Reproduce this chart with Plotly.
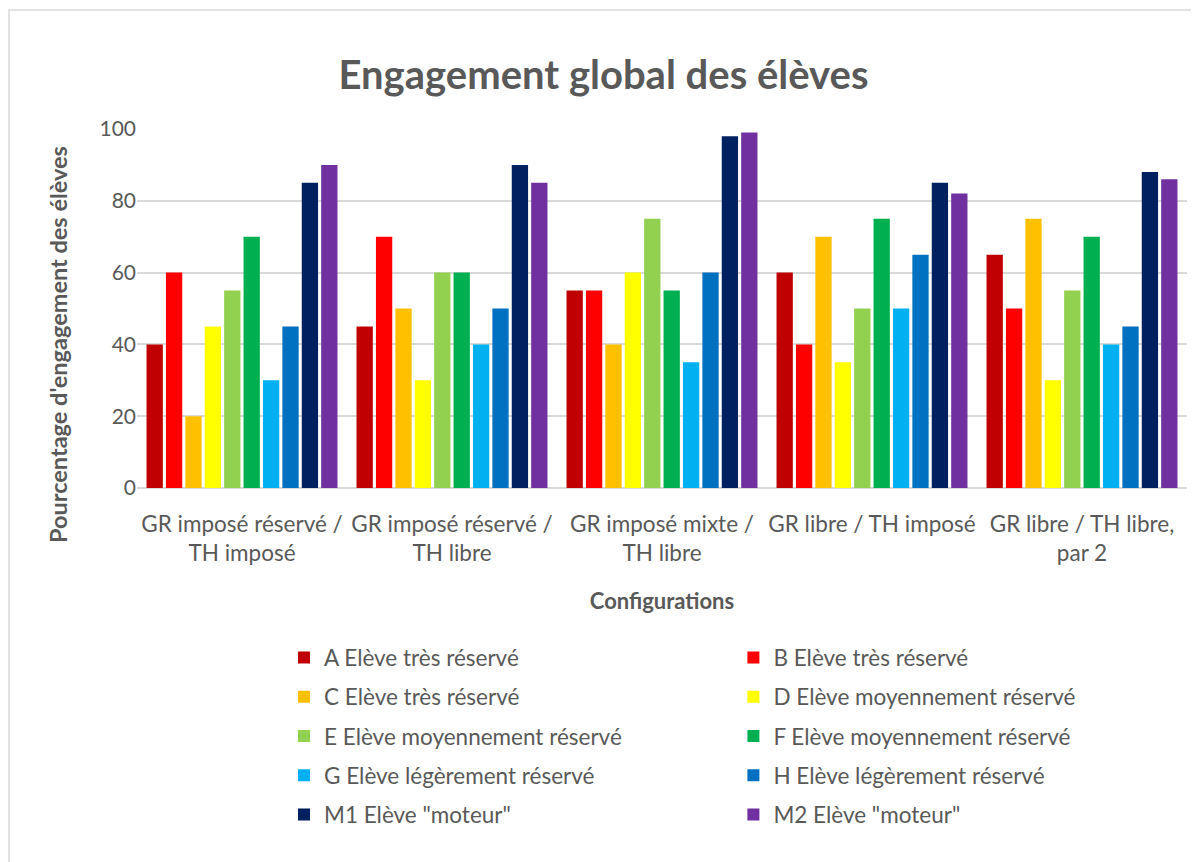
import plotly.graph_objects as go

categories = [
    "GR imposé réservé /<br>TH imposé",
    "GR imposé réservé /<br>TH libre",
    "GR imposé mixte /<br>TH libre",
    "GR libre / TH imposé",
    "GR libre / TH libre,<br>par 2",
]

series_names = [
    "A Elève très réservé",
    "B Elève très réservé",
    "C Elève très réservé",
    "D Elève moyennement réservé",
    "E Elève moyennement réservé",
    "F Elève moyennement réservé",
    "G Elève légèrement réservé",
    "H Elève légèrement réservé",
    "M1 Elève \"moteur\"",
    "M2 Elève \"moteur\"",
]

A = [40, 45, 55, 60, 65]
B = [60, 70, 55, 40, 50]
C = [20, 50, 40, 70, 75]
D = [45, 30, 60, 35, 30]
E = [55, 60, 75, 50, 55]
F = [70, 60, 55, 75, 70]
G = [30, 40, 35, 50, 40]
H = [45, 50, 60, 65, 45]
M1 = [85, 90, 98, 85, 88]
M2 = [90, 85, 99, 82, 86]

series_values = [A, B, C, D, E, F, G, H, M1, M2]

colors = ["#C00000", "#FF0000", "#FFC000", "#FFFF00", "#92D050",
          "#00B050", "#00B0F0", "#0070C0", "#002060", "#7030A0"]

FONT = "Lato"
GREY = "#595959"

# page body has an 8px margin: figure is sized/placed to compensate
W, H_ = 1191, 854
L, R, T, Bm = 129, 12, 121, 374
PW = W - L - R
PH = H_ - T - Bm

fig = go.Figure()
for i, (name, vals, col) in enumerate(zip(series_names, series_values, colors)):
    fig.add_trace(go.Bar(
        x=categories, y=vals, name=name,
        marker=dict(color=col, line=dict(width=0)),
        legend="legend" if i % 2 == 0 else "legend2",
        legendgroup=name,
    ))

legend_common = dict(
    orientation="v",
    font=dict(family=FONT, size=22.5, color=GREY),
    bgcolor="rgba(0,0,0,0)",
    tracegroupgap=7,
    yanchor="top",
    xanchor="left",
    itemclick=False,
)

fig.update_layout(
    width=W, height=H_,
    margin=dict(l=L, r=R, t=T, b=Bm),
    paper_bgcolor="white",
    plot_bgcolor="white",
    font=dict(family=FONT, color=GREY),
    title=dict(
        text="<b>Engagement global des élèves</b>",
        font=dict(family=FONT, size=40, color=GREY),
        x=0.5, xanchor="center",
        y=1 - 67 / H_, yanchor="middle",
    ),
    barmode="group",
    bargap=0.076,
    bargroupgap=0.16,
    xaxis=dict(
        tickfont=dict(family=FONT, size=22.5, color=GREY),
        showgrid=False,
        showline=False,
        ticks="",
        ticklabelstandoff=20,
        title=dict(text="<b>Configurations</b>",
                   font=dict(family=FONT, size=22, color=GREY),
                   standoff=28),
    ),
    yaxis=dict(
        range=[0, 100],
        tickvals=[0, 20, 40, 60, 80, 100],
        tickfont=dict(family=FONT, size=21, color=GREY),
        showgrid=True, gridcolor="#D9D9D9", gridwidth=1.5,
        zeroline=True, zerolinecolor="#D9D9D9", zerolinewidth=1.5,
        showline=False,
        ticks="",
    ),
    legend=dict(x=0.14, y=-0.413, **legend_common),
    legend2=dict(x=0.568, y=-0.413, **legend_common),
    annotations=[dict(
        text="<b>Pourcentage d'engagement des élèves</b>",
        textangle=-90,
        xref="paper", yref="paper",
        x=(50 - L) / PW, y=(480 - 337) / PH,
        xanchor="center", yanchor="middle",
        showarrow=False,
        font=dict(family=FONT, size=23.5, color=GREY),
    )],
    shapes=[dict(
        type="rect", xref="paper", yref="paper",
        x0=(1 - L) / PW, x1=(1210 - L) / PW,
        y0=(480 - 900) / PH, y1=(480 - 2) / PH,
        line=dict(color="#D9D9D9", width=1.5),
        fillcolor="rgba(0,0,0,0)",
        layer="below",
    )],
    showlegend=True,
)

fig.write_html("out.html")
